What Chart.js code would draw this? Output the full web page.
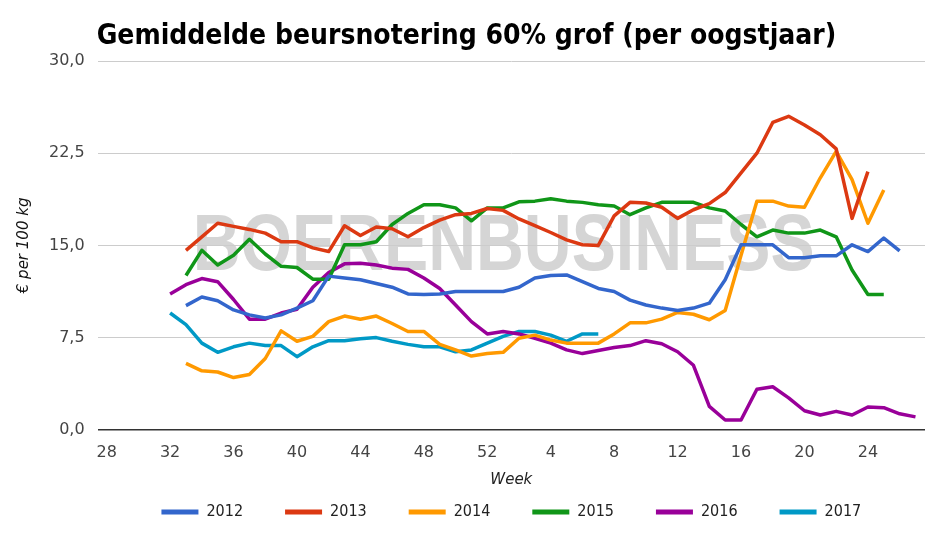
<!DOCTYPE html>
<html><head><meta charset="utf-8">
<script src="https://cdn.jsdelivr.net/npm/chart.js@4.4.1/dist/chart.umd.min.js"></script>
<style>html,body{margin:0;padding:0;background:#fff;}#wrap{width:945px;height:537px;}</style>
</head><body><div id="wrap"><canvas id="c" width="945" height="537"></canvas></div>
<script>
const chartTitle = 'Gemiddelde beursnotering 60% grof (per oogstjaar)';
const watermarkText = 'BOERENBUSINESS';
const yAxisTitle = '€ per 100 kg';
const xAxisTitle = 'Week';

// weeks of the harvest year (week 28 .. week 27 of the next calendar year)
const weeks = [28,29,30,31,32,33,34,35,36,37,38,39,40,41,42,43,44,45,46,47,48,49,50,51,52,
               1,2,3,4,5,6,7,8,9,10,11,12,13,14,15,16,17,18,19,20,21,22,23,24,25,26,27];
const xTickWeeks = [28,32,36,40,44,48,52,4,8,12,16,20,24];
const yTickValues = [0, 7.5, 15, 22.5, 30];

const seriesNames = ['2012','2013','2014','2015','2016','2017'];
const seriesColors = ['#3366cc','#dc3912','#ff9900','#109618','#990099','#0099c6'];

const s2012 = [null,null,null,null,null,
  10.1,10.8,10.5,9.75,9.35,9.1,9.35,9.9,10.5,12.5,12.35,12.2,11.9,11.6,11.05,11.0,11.05,11.25,11.25,11.25,
  11.25,11.6,12.35,12.55,12.6,12.05,11.5,11.25,10.55,10.15,9.9,9.7,9.9,10.3,12.2,15.05,15.05,15.05,14.0,14.0,14.15,14.15,15.05,14.5,15.6,14.55,
  null];
const s2013 = [null,null,null,null,null,
  14.6,15.7,16.8,16.55,16.3,16.0,15.3,15.3,14.8,14.5,16.6,15.8,16.5,16.35,15.7,16.45,17.05,17.5,17.6,18.0,
  17.85,17.15,16.6,16.05,15.45,15.05,15.0,17.4,18.5,18.45,18.1,17.2,17.9,18.4,19.3,20.9,22.5,25.0,25.5,24.8,24.0,22.85,17.2,21.0,
  null,null,null];
const s2014 = [null,null,null,null,null,
  5.4,4.8,4.7,4.25,4.5,5.8,8.05,7.2,7.6,8.8,9.25,9.0,9.25,8.65,8.0,8.0,6.95,6.5,6.0,6.2,
  6.3,7.45,7.7,7.3,7.05,7.05,7.05,7.8,8.7,8.7,9.0,9.55,9.4,8.95,9.7,14.2,18.6,18.6,18.2,18.1,20.5,22.65,20.35,16.8,19.5,
  null,null];
const s2015 = [null,null,null,null,null,
  12.55,14.6,13.4,14.2,15.5,14.3,13.3,13.2,12.25,12.25,15.05,15.05,15.3,16.7,17.6,18.3,18.3,18.05,17.0,18.05,
  18.05,18.55,18.6,18.8,18.6,18.5,18.3,18.2,17.5,18.05,18.5,18.5,18.5,18.05,17.8,16.7,15.7,16.25,16.0,16.0,16.25,15.7,13.0,11.0,11.0,
  null,null];
const s2016 = [null,null,null,null,
  11.05,11.8,12.3,12.05,10.6,9.0,9.0,9.5,9.8,11.6,12.8,13.5,13.55,13.4,13.15,13.05,12.35,11.5,10.15,8.8,7.8,
  8.0,7.8,7.45,7.05,6.5,6.2,6.45,6.7,6.85,7.25,7.0,6.35,5.25,1.9,0.8,0.8,3.3,3.5,2.6,1.55,1.2,1.5,1.2,1.85,1.8,1.3,1.05];
const s2017 = [null,null,null,null,
  9.5,8.55,7.05,6.3,6.75,7.05,6.85,6.85,5.95,6.75,7.25,7.25,7.4,7.5,7.2,6.95,6.75,6.75,6.35,6.5,7.05,
  7.6,8.0,8.0,7.7,7.2,7.8,7.8,
  null,null,null,null,null,null,null,null,null,null,null,null,null,null,null,null,null,null,null,null];

const allSeries = [s2012, s2013, s2014, s2015, s2016, s2017];
const FIRST = 28; // sequential position of the first week
const fontReg = '"DejaVu Sans", sans-serif';
const fontCond = '"DejaVu Sans Condensed", "Liberation Sans Narrow", sans-serif';

const titlePlugin = {
  id: 'topTitle',
  afterDraw(chart) {
    const ctx = chart.ctx;
    ctx.save();
    ctx.font = 'bold 28px ' + fontCond;
    ctx.fillStyle = '#000';
    ctx.textBaseline = 'alphabetic';
    ctx.textAlign = 'left';
    ctx.fillText(chartTitle, chart.chartArea.left - 1, 44);
    ctx.restore();
  }
};
const watermarkPlugin = {
  id: 'watermark',
  beforeDraw(chart) {
    const ctx = chart.ctx;
    const a = chart.chartArea;
    ctx.save();
    ctx.font = 'bold 80px "Liberation Sans", Arial, sans-serif';
    const w = ctx.measureText(watermarkText).width;
    const targetW = 622;
    ctx.translate(a.left + 95, 270);
    ctx.scale(targetW / w, 1);
    ctx.fillStyle = '#d5d5d5';
    ctx.textBaseline = 'alphabetic';
    ctx.textAlign = 'left';
    ctx.fillText(watermarkText, 0, 0);
    ctx.restore();
  }
};

const datasets = allSeries.map((arr, k) => ({
  label: seriesNames[k],
  data: arr.map((v, i) => ({x: FIRST + i, y: v})),
  borderColor: seriesColors[k],
  backgroundColor: seriesColors[k],
  borderWidth: 3.5,
  pointRadius: 0,
  pointHoverRadius: 0,
  tension: 0,
  spanGaps: false,
  borderJoinStyle: 'round'
}));

new Chart(document.getElementById('c'), {
  type: 'line',
  data: { datasets },
  options: {
    responsive: false,
    animation: false,
    layout: { padding: { top: 61, left: 5, right: 20, bottom: 7 } },
    plugins: {
      title: { display: false },
      tooltip: { enabled: false },
      legend: {
        position: 'bottom',
        fullSize: false,
        labels: {
          boxWidth: 37, boxHeight: 5, padding: 42,
          color: '#222',
          font: { family: fontCond, size: 16 },
          generateLabels: (ch) => Chart.defaults.plugins.legend.labels.generateLabels(ch).map(l => Object.assign(l, { lineWidth: 0 }))
        }
      }
    },
    scales: {
      x: {
        type: 'linear',
        min: 27.43, max: 79.6,
        afterBuildTicks: (s) => { s.ticks = xTickWeeks.map(w => ({ value: weeks.indexOf(w) + FIRST })); },
        ticks: {
          autoSkip: false, maxRotation: 0, padding: 13,
          color: '#444', font: { family: fontReg, size: 16 },
          callback: (v) => String(weeks[Math.round(v) - FIRST])
        },
        grid: { display: false, drawTicks: false },
        border: { display: false },
        title: { display: true, text: xAxisTitle, color: '#222', font: { family: fontReg, size: 15, style: 'italic' }, padding: { top: -4, bottom: -27 } }
      },
      y: {
        min: 0, max: 30,
        afterBuildTicks: (s) => { s.ticks = yTickValues.map(v => ({ value: v })); },
        ticks: {
          padding: 13, color: '#444', font: { family: fontReg, size: 16 },
          callback: (v) => Number(v).toFixed(1).replace('.', ',')
        },
        grid: {
          drawTicks: false,
          color: (c) => (c.tick && c.tick.value === 0) ? '#333' : '#cccccc',
          lineWidth: (c) => (c.tick && c.tick.value === 0) ? 1.5 : 1
        },
        border: { display: false },
        title: { display: true, text: yAxisTitle, color: '#111', font: { family: fontReg, size: 15, style: 'italic' }, padding: { top: 10, bottom: 3 } }
      }
    }
  },
  plugins: [titlePlugin, watermarkPlugin]
});
</script></body></html>
